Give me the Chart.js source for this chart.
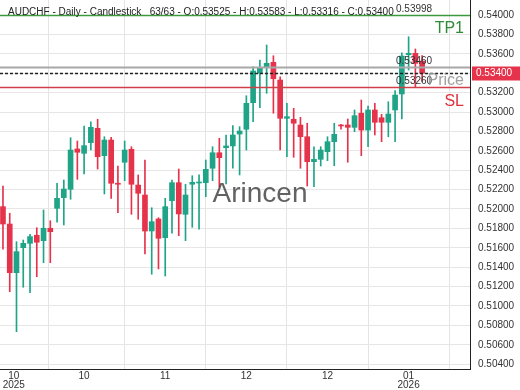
<!DOCTYPE html>
<html>
<head>
<meta charset="utf-8">
<script src="https://cdn.jsdelivr.net/npm/chart.js@4.4.1/dist/chart.umd.min.js"></script>
<style>
html,body{margin:0;padding:0;background:#fff}
#wrap{width:520px;height:390px}
</style>
</head>
<body>
<div id="wrap"><canvas id="chart" width="520" height="390"></canvas></div>
<script>
// AUDCHF daily candles, 63 bars
const candleOpen = [0.52024,0.51845,0.51343,0.51601,0.51646,0.51729,0.51673,0.51801,0.52007,0.52117,
0.52203,0.52619,0.52574,0.52684,0.52832,0.52550,0.52711,0.52265,0.52482,0.52616,
0.52247,0.52144,0.51773,0.51897,0.51704,0.52086,0.52271,0.51945,0.52255,0.52268,
0.52271,0.52420,0.52580,0.52632,0.52650,0.52773,0.52822,0.53096,0.53399,0.53461,
0.53512,0.53330,0.52935,0.52925,0.52866,0.52745,0.52488,0.52512,0.52591,0.52694,
0.52866,0.52866,0.52842,0.52987,0.52814,0.53021,0.52941,0.52894,0.53021,0.53186,
0.53591,0.53605,0.53525];
const candleHigh = [0.52237,0.51956,0.51663,0.51680,0.51739,0.51807,0.51990,0.51879,0.52265,0.52299,
0.52735,0.52701,0.52856,0.52900,0.52925,0.52745,0.52739,0.52443,0.52701,0.52642,
0.52351,0.52505,0.52013,0.51910,0.52110,0.52299,0.52412,0.52255,0.52343,0.52351,
0.52505,0.52642,0.52729,0.52763,0.52859,0.52849,0.53168,0.53467,0.53536,0.53691,
0.53580,0.53364,0.53090,0.53038,0.52945,0.52884,0.52642,0.52642,0.52745,0.52884,
0.52873,0.52928,0.53021,0.53124,0.53062,0.53090,0.52976,0.53106,0.53220,0.53611,
0.53776,0.53650,0.53583];
const candleLow = [0.51585,0.51147,0.50735,0.51193,0.51137,0.51302,0.51446,0.51446,0.51863,0.51835,
0.52100,0.52306,0.52361,0.52608,0.52412,0.52155,0.52110,0.51962,0.52292,0.51945,
0.51894,0.51536,0.51327,0.51382,0.51309,0.51750,0.51725,0.51673,0.51811,0.51791,
0.52127,0.52292,0.52230,0.52258,0.52420,0.52351,0.52608,0.52900,0.53044,0.53193,
0.52987,0.52608,0.52539,0.52533,0.52420,0.52237,0.52230,0.52443,0.52498,0.52446,
0.52822,0.52482,0.52797,0.52550,0.52642,0.52763,0.52694,0.52745,0.52694,0.52928,
0.53433,0.53261,0.53316];
const candleClose = [0.51845,0.51343,0.51560,0.51646,0.51715,0.51657,0.51801,0.51766,0.52110,0.52206,
0.52608,0.52585,0.52653,0.52842,0.52539,0.52711,0.52265,0.52255,0.52608,0.52255,
0.52162,0.51773,0.51869,0.51698,0.52024,0.52271,0.51949,0.52144,0.52275,0.52278,
0.52409,0.52580,0.52529,0.52650,0.52763,0.52804,0.53090,0.53423,0.53451,0.53502,
0.53343,0.52935,0.52952,0.52884,0.52745,0.52488,0.52512,0.52608,0.52694,0.52770,
0.52856,0.52842,0.52962,0.52814,0.53021,0.52894,0.52894,0.52979,0.53175,0.53577,
0.53605,0.53502,0.53400];

const xTickPos = [1.6,12,24,36,48,60];
const xTickLabels = [["10","2025"],["10"],["11"],["12"],["12"],["01","2026"]];

const tp1Level = 0.53998;
const entryLevel = 0.53460;
const priceLevel = 0.53400;
const slLevel = 0.53260;

const titleText = "AUDCHF - Daily - Candlestick   63/63 - O:0.53525 - H:0.53583 - L:0.53316 - C:0.53400";

const UP = "#20a488", DOWN = "#e5334b";
const colorOf = i => candleClose[i] >= candleOpen[i] ? UP : DOWN;

const bodies = candleOpen.map((o,i)=>({x:i,y:[o,candleClose[i]]}));
const wicks = candleLow.map((l,i)=>({x:i,y:[l,candleHigh[i]]}));

const overlay = {
  id:"overlay",
  afterDatasetsDraw(chart){
    const {ctx, chartArea:a, scales:{y}} = chart;
    ctx.save();
    function hline(v,color,w,dash){
      const py = Math.round(y.getPixelForValue(v))+0.5;
      ctx.beginPath();
      ctx.setLineDash(dash);
      ctx.strokeStyle=color; ctx.lineWidth=w;
      ctx.moveTo(a.left,py); ctx.lineTo(a.right,py); ctx.stroke();
      ctx.setLineDash([]);
      return py;
    }
    const yTp = hline(tp1Level,"#3c9a3c",1.5,[]);
    const yEn = hline(entryLevel,"#a8a8a8",2,[]);
    const yPr = hline(priceLevel,"#222",1.5,[3,2]);
    const ySl = hline(slLevel,"#d0404a",1.5,[]);

    // watermark
    ctx.font = '28px "Liberation Sans", Arial, sans-serif';
    ctx.fillStyle = "rgba(70,70,70,0.85)";
    ctx.textAlign="center"; ctx.textBaseline="middle";
    ctx.fillText("Arincen",260,194);

    // title
    ctx.font = '10px "Liberation Sans", Arial, sans-serif';
    ctx.fillStyle="#222"; ctx.textAlign="left"; ctx.textBaseline="middle";
    ctx.fillText(titleText,8,12);

    // level labels
    ctx.font = '10px "Liberation Sans", Arial, sans-serif';
    ctx.fillStyle="#333"; ctx.textBaseline="bottom";
    ctx.fillText(tp1Level.toFixed(5),396,yTp-1);
    ctx.fillText(entryLevel.toFixed(5),396,yEn-1);
    ctx.fillText(slLevel.toFixed(5),396,ySl-1);

    ctx.font = '16px "Liberation Sans", Arial, sans-serif';
    ctx.textAlign="right"; ctx.textBaseline="middle";
    ctx.fillStyle="#2e8b3a"; ctx.fillText("TP1",464,yTp+13);
    ctx.fillStyle="rgba(150,150,150,0.9)"; ctx.fillText("Price",464,yPr+7);
    ctx.fillStyle="#e0303a"; ctx.fillText("SL",464,ySl+14);

    // price box on axis
    ctx.fillStyle="#e5334b";
    ctx.fillRect(a.right+2,yPr-7,48,14);
    ctx.fillStyle="#fff"; ctx.font='10px "Liberation Sans", Arial, sans-serif';
    ctx.textAlign="left"; ctx.fillText(priceLevel.toFixed(5),a.right+6,yPr);
    ctx.restore();
  }
};

new Chart(document.getElementById("chart"),{
  type:"bar",
  data:{datasets:[
    {data:bodies,barThickness:5,minBarLength:1,grouped:false,
     backgroundColor:c=>colorOf(c.dataIndex)},
    {data:wicks,barThickness:1,grouped:false,
     backgroundColor:c=>colorOf(c.dataIndex)}
  ]},
  options:{
    responsive:false,animation:false,
    layout:{padding:0},
    plugins:{legend:{display:false},tooltip:{enabled:false}},
    scales:{
      x:{type:"linear",min:-0.44,max:69.08,offset:false,
        afterBuildTicks:s=>{s.ticks=xTickPos.map(v=>({value:v}));},
        afterFit:s=>{s.height=21;s.paddingLeft=0;s.paddingRight=0;},
        ticks:{autoSkip:false,maxRotation:0,padding:2,color:"#333",
          font:{size:10,family:'"Liberation Sans", Arial, sans-serif',lineHeight:0.95},
          callback:(v,i)=>xTickLabels[i]},
        grid:{drawTicks:false,color:c=>c.index===0?"rgba(0,0,0,0)":"#e4e4e4"},
        border:{color:"#222"}
      },
      y:{position:"right",min:0.5035,max:0.54155,
        afterFit:s=>{s.width=50;s.paddingTop=0;s.paddingBottom=0;},
        ticks:{stepSize:0.002,includeBounds:false,padding:8,color:"#333",
          font:{size:10,family:'"Liberation Sans", Arial, sans-serif'},
          callback:v=>v.toFixed(5)},
        grid:{drawTicks:false,color:"#e6e6e6"},
        border:{color:"#222"}
      }
    }
  },
  plugins:[overlay]
});
</script>
</body>
</html>
